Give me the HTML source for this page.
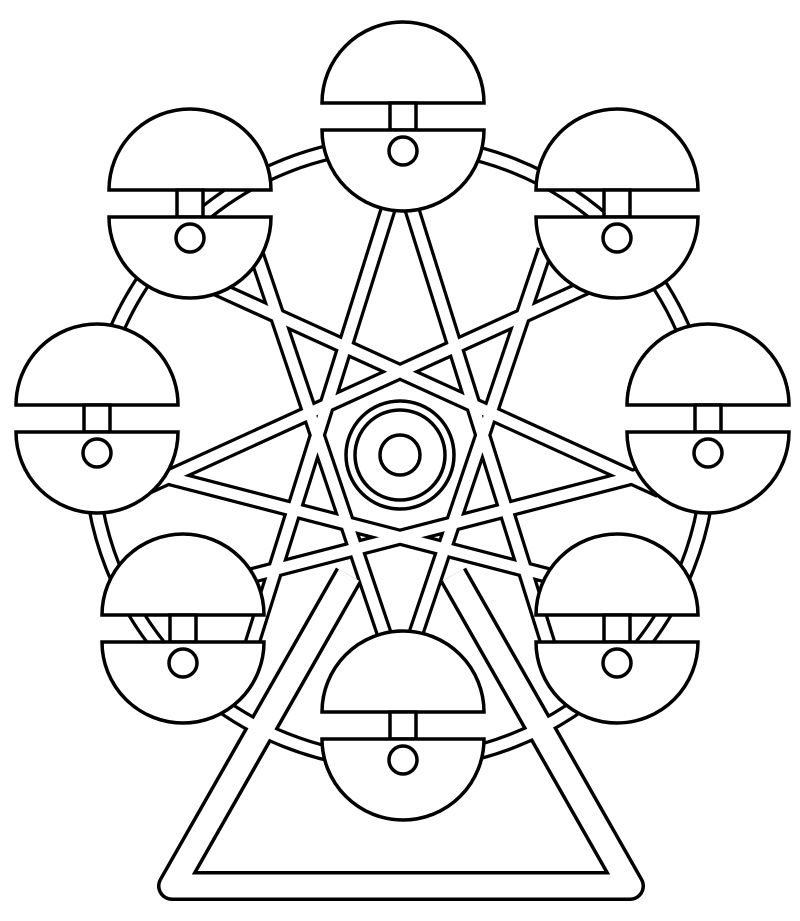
<!DOCTYPE html>
<html><head><meta charset="utf-8"><style>html,body{margin:0;padding:0;background:#fff}svg{display:block}</style></head>
<body>
<svg width="800" height="921" viewBox="0 0 800 921" xmlns="http://www.w3.org/2000/svg">
<defs>
<g id="ring"><circle cx="400" cy="453" r="309" fill="none"/></g>
<g id="frame"><path d="M349,575 L172,886 L630,886 L453,575" fill="none"/></g>
<g id="star">
<path d="M205,283 L660,490 M595,283 L140,490 M140,470 L600,589 M660,470 L200,589 M388,645 L255,250 M412,645 L545,250 M391,200 L250,650 M409,200 L550,650" fill="none"/>
</g>
<g id="cab">
<path d="M-81,0 A81,81 0 0 1 81,0 Z"/>
<rect x="-13" y="0" width="26" height="27"/>
<path d="M-81,27 A81,81 0 0 0 81,27 Z"/>
<circle cx="0" cy="48" r="14"/>
</g>
</defs>
<g stroke="#000" stroke-linejoin="round">
<use href="#ring" stroke-width="17"/>
<use href="#frame" stroke-width="30"/>
<use href="#star" stroke-width="17"/>
</g>
<g stroke="#fff" stroke-linejoin="round">
<use href="#ring" stroke-width="10.5"/>
<use href="#frame" stroke-width="23"/>
<use href="#star" stroke-width="10.5"/>
</g>
<g fill="#fff" stroke="#000" stroke-width="3.5">
<circle cx="400" cy="455" r="54"/>
<circle cx="400" cy="455" r="45"/>
<circle cx="400" cy="455" r="20"/>
<use href="#cab" transform="translate(403,103)"/>
<use href="#cab" transform="translate(190,190)"/>
<use href="#cab" transform="translate(617,190)"/>
<use href="#cab" transform="translate(97,405)"/>
<use href="#cab" transform="translate(708,405)"/>
<use href="#cab" transform="translate(183,615)"/>
<use href="#cab" transform="translate(617,615)"/>
<use href="#cab" transform="translate(403,712)"/>
</g>
</svg>
</body></html>
